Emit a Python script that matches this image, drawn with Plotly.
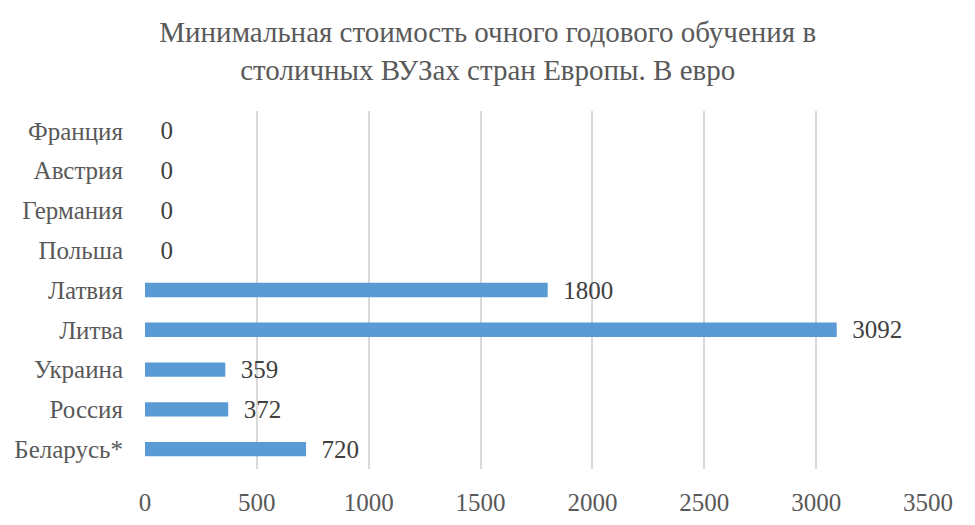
import plotly.graph_objects as go

# Data (bottom to top, as drawn)
countries = ["Беларусь*", "Россия", "Украина", "Литва", "Латвия",
             "Польша", "Германия", "Австрия", "Франция"]
costs = [720, 372, 359, 3092, 1800, 0, 0, 0, 0]
x_ticks = [0, 500, 1000, 1500, 2000, 2500, 3000, 3500]

font_family = "Liberation Serif, Times New Roman, serif"

fig = go.Figure()

fig.add_trace(go.Bar(
    x=costs, y=countries,
    orientation="h",
    marker=dict(color="#5B9BD5", line=dict(width=0)),
    texttemplate="\u00a0\u00a0%{x}",
    textposition="outside",
    constraintext="none",
    textfont=dict(family=font_family, size=25, color="#404040"),
    cliponaxis=False,
    width=0.36,
))

fig.update_layout(
    font=dict(family=font_family),
    title=dict(
        text="Минимальная стоимость очного годового обучения в<br>столичных ВУЗах стран Европы. В евро",
        x=0.492, xanchor="center", y=0.935, yanchor="top",
        font=dict(family=font_family, size=29, color="#595959"),
    ),
    width=975, height=525,
    margin=dict(l=137, r=55, t=103, b=64),
    plot_bgcolor="white",
    paper_bgcolor="white",
    showlegend=False,
    xaxis=dict(
        range=[0, 3500],
        tickvals=x_ticks,
        showgrid=True, gridcolor="#D9D9D9", gridwidth=2,
        zeroline=False, showline=False,
        ticks="outside", ticklen=11, tickcolor="rgba(0,0,0,0)",
        tickfont=dict(family=font_family, size=25, color="#595959"),
        automargin=False,
    ),
    yaxis=dict(
        categoryorder="array", categoryarray=countries,
        showgrid=False, zeroline=False, showline=False,
        ticks="outside", ticklen=16, tickcolor="rgba(0,0,0,0)",
        tickfont=dict(family=font_family, size=25, color="#595959"),
        automargin=False,
    ),
)

fig.write_html("out.html")
